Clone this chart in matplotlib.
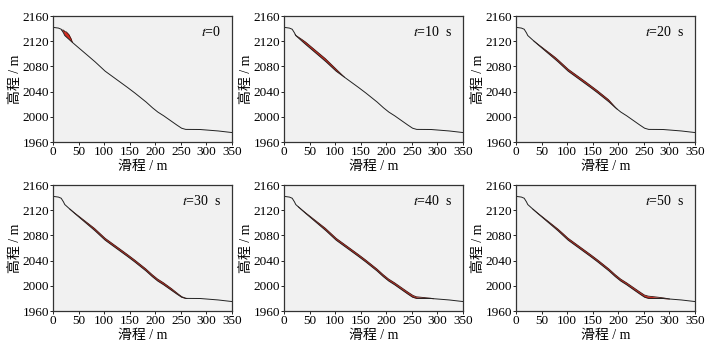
import numpy as np
import matplotlib
matplotlib.use('Agg')
import matplotlib.pyplot as plt

plt.rcParams['font.family'] = ['Liberation Serif', 'Noto Sans CJK SC']
plt.rcParams['mathtext.fontset'] = 'stix'

# 地形剖面 (滑程, 高程)
terrain_x = [0, 10, 16, 20, 23, 30, 38, 58, 80, 101, 130, 155, 180, 192, 204, 214, 233, 251, 259, 285, 318, 350]
terrain_y = [2142, 2141, 2139, 2134, 2129, 2124, 2118, 2104, 2089, 2073, 2056, 2041, 2025, 2016, 2008, 2003, 1992, 1982, 1980, 1980, 1978, 1975]

# 各時刻滑體範圍與厚度
titles = ['$t$=0', '$t$=10  s', '$t$=20  s', '$t$=30  s', '$t$=40  s', '$t$=50  s']
slide_x = [
    [17, 21, 26, 31, 35, 38],
    [22, 40, 60, 80, 100, 118],
    [35, 70, 110, 150, 180, 198],
    [33, 80, 130, 180, 230, 262],
    [28, 80, 140, 200, 250, 292],
    [33, 90, 150, 210, 260, 300],
]
slide_h = [
    [0, 5, 8, 7.5, 4.5, 0],
    [0, 3.5, 4, 4, 3.5, 0],
    [0, 3, 3.2, 3.2, 3, 0],
    [0, 3, 3, 3, 3, 0],
    [0, 3, 3, 3, 3.2, 0],
    [0, 3, 3, 3, 3.5, 0],
]

fig = plt.figure(figsize=(7.12, 3.46), dpi=100)
W, H = 712, 346
lefts = [53, 284, 516]
tops = [16, 185]
aw, ah = 179, 126

xt = np.linspace(0, 350, 701)
yt = np.interp(xt, terrain_x, terrain_y)

for i in range(6):
    r, c = divmod(i, 3)
    ax = fig.add_axes([lefts[c] / W, 1 - (tops[r] + ah) / H, aw / W, ah / H])
    ax.set_facecolor('#f1f1f1')
    sx = np.linspace(slide_x[i][0], slide_x[i][-1], 200)
    sh = np.interp(sx, slide_x[i], slide_h[i])
    base = np.interp(sx, terrain_x, terrain_y)
    ax.fill_between(sx, base, base + sh, color='#d42a1e', lw=0)
    ax.plot(sx, base + sh, color='#3a1510', lw=0.6)
    ax.plot(xt, yt, color='#222222', lw=0.7)
    ax.set_xlim(0, 350)
    ax.set_ylim(1960, 2160)
    ax.set_xticks([0, 50, 100, 150, 200, 250, 300, 350])
    ax.set_yticks([1960, 2000, 2040, 2080, 2120, 2160])
    ax.tick_params(labelsize=9.5, length=2, width=0.6, direction='out', pad=1)
    for s in ax.spines.values():
        s.set_linewidth(0.9)
        s.set_color('#333333')
    ax.set_xlabel('滑程 / m', fontsize=10, labelpad=1)
    ax.set_ylabel('高程 / m', fontsize=10, labelpad=0)
    ax.text(0.94, 0.87, titles[i], transform=ax.transAxes, ha='right', va='center', fontsize=10)

fig.savefig('out.png', dpi=100, facecolor='white')
